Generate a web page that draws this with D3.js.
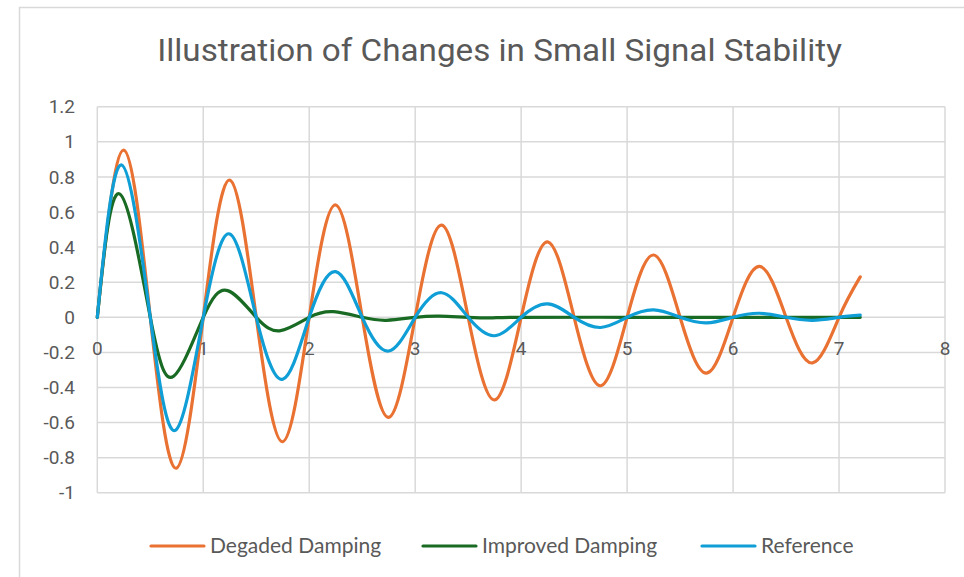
<!DOCTYPE html>
<html>
<head>
<meta charset="utf-8">
<script src="https://cdn.jsdelivr.net/npm/d3@7"></script>
<style>
  body { margin: 0; background: #fff; }
  svg { display: block; }
</style>
</head>
<body>
<svg id="chart" width="964" height="577"></svg>
<script>
// values: [time, value] at peaks, troughs and zero crossings
const degraded = [
  [0, 0], [0.25, 0.953], [0.5, 0], [0.745, -0.86], [1, 0], [1.25, 0.782], [1.5, 0], [1.75, -0.709],
  [2, 0], [2.25, 0.64], [2.5, 0], [2.75, -0.57], [3, 0], [3.25, 0.525], [3.5, 0], [3.75, -0.471],
  [4, 0], [4.25, 0.43], [4.5, 0], [4.75, -0.39], [5, 0], [5.25, 0.355], [5.5, 0], [5.75, -0.318],
  [6, 0], [6.25, 0.29], [6.5, 0], [6.75, -0.26], [7, 0], [7.2, 0.23]
];
const improved = [
  [0, 0], [0.21, 0.703], [0.5, 0], [0.72, -0.336], [1, 0], [1.23, 0.152], [1.5, 0], [1.73, -0.076],
  [2, 0], [2.23, 0.032], [2.5, 0], [2.73, -0.017], [3, 0], [3.23, 0.007], [3.5, 0], [3.73, -0.003],
  [4, 0], [5, 0], [6, 0], [7.2, 0]
];
const reference = [
  [0, 0], [0.23, 0.868], [0.5, 0], [0.736, -0.644], [1, 0], [1.25, 0.475], [1.5, 0], [1.75, -0.353],
  [2, 0], [2.25, 0.26], [2.5, 0], [2.75, -0.192], [3, 0], [3.25, 0.14], [3.5, 0], [3.75, -0.105],
  [4, 0], [4.25, 0.076], [4.5, 0], [4.75, -0.058], [5, 0], [5.25, 0.042], [5.5, 0], [5.75, -0.032],
  [6, 0], [6.25, 0.023], [6.5, 0], [6.75, -0.017], [7, 0], [7.2, 0.012]
];

const seriesNames = ["Degaded Damping", "Improved Damping", "Reference"];
const seriesData = [degraded, improved, reference];
const colors = ["#E97132", "#196B24", "#0F9ED5"];
const xTicks = d3.range(0, 9, 1);
const yTicks = d3.range(-1, 1.21, 0.2).map(d => +d.toFixed(1));

const svg = d3.select("#chart");
const textColor = "#595959";
const gridColor = "#d9d9d9";
const font = "Roboto, 'Noto Sans', sans-serif";

// chart frame (cut off at right and bottom in the picture)
svg.append("path")
  .attr("d", "M19.5,577 V7.5 H964")
  .attr("fill", "none").attr("stroke", gridColor).attr("stroke-width", 1.5);

const x = d3.scaleLinear().domain([0, 8]).range([97.3, 945]);
const y = d3.scaleLinear().domain([-1, 1.2]).range([492.8, 106.7]);

const grid = svg.append("g");
grid.selectAll(".hg").data(yTicks).join("line")
  .attr("x1", x(0)).attr("x2", x(8))
  .attr("y1", d => y(d)).attr("y2", d => y(d))
  .attr("stroke", gridColor).attr("stroke-width", 1.5);
grid.selectAll(".vg").data(xTicks).join("line")
  .attr("x1", d => x(d)).attr("x2", d => x(d))
  .attr("y1", y(1.2)).attr("y2", y(-1))
  .attr("stroke", gridColor).attr("stroke-width", 1.5);

// y labels
svg.append("g").selectAll("text").data(yTicks).join("text")
  .attr("x", 75).attr("y", d => y(d))
  .attr("dy", "0.35em")
  .attr("text-anchor", "end")
  .style("font-family", font).style("font-size", "19px").style("fill", textColor)
  .text(d => d);

// x labels sit under the zero line
svg.append("g").selectAll("text").data(xTicks).join("text")
  .attr("x", d => x(d)).attr("y", y(0) + 38)
  .attr("text-anchor", "middle")
  .style("font-family", font).style("font-size", "19px").style("fill", textColor)
  .text(d => d);

const line = d3.line()
  .x(d => x(d[0])).y(d => y(d[1]))
  .curve(d3.curveNatural);

svg.append("g").selectAll("path").data(seriesData).join("path")
  .attr("d", line)
  .attr("fill", "none")
  .attr("stroke", (d, i) => colors[i])
  .attr("stroke-width", 3.2)
  .attr("stroke-linecap", "round")
  .attr("stroke-linejoin", "round");

// title, squeezed to the narrow width of the original
const title = svg.append("text")
  .attr("x", 0).attr("y", 0)
  .attr("text-anchor", "middle")
  .style("font-family", font).style("font-size", "32px").style("fill", textColor)
  .text("Illustration of Changes in Small Signal Stability");
const tw = title.node().getComputedTextLength();
title.attr("transform", `translate(499.5,61) scale(${685 / tw},1)`);

// legend
const legendX = [151, 423, 702];
const lg = svg.append("g").selectAll("g").data(seriesNames).join("g")
  .attr("transform", (d, i) => `translate(${legendX[i]},546)`);
lg.append("line")
  .attr("x1", 0).attr("x2", 53).attr("y1", 0).attr("y2", 0)
  .attr("stroke", (d, i) => colors[i]).attr("stroke-width", 3.2).attr("stroke-linecap", "round");
lg.append("text")
  .attr("x", 59).attr("dy", "0.35em")
  .style("font-family", "Lato, 'Noto Sans', sans-serif").style("font-size", "21px").style("fill", textColor)
  .text(d => d);
</script>
</body>
</html>
